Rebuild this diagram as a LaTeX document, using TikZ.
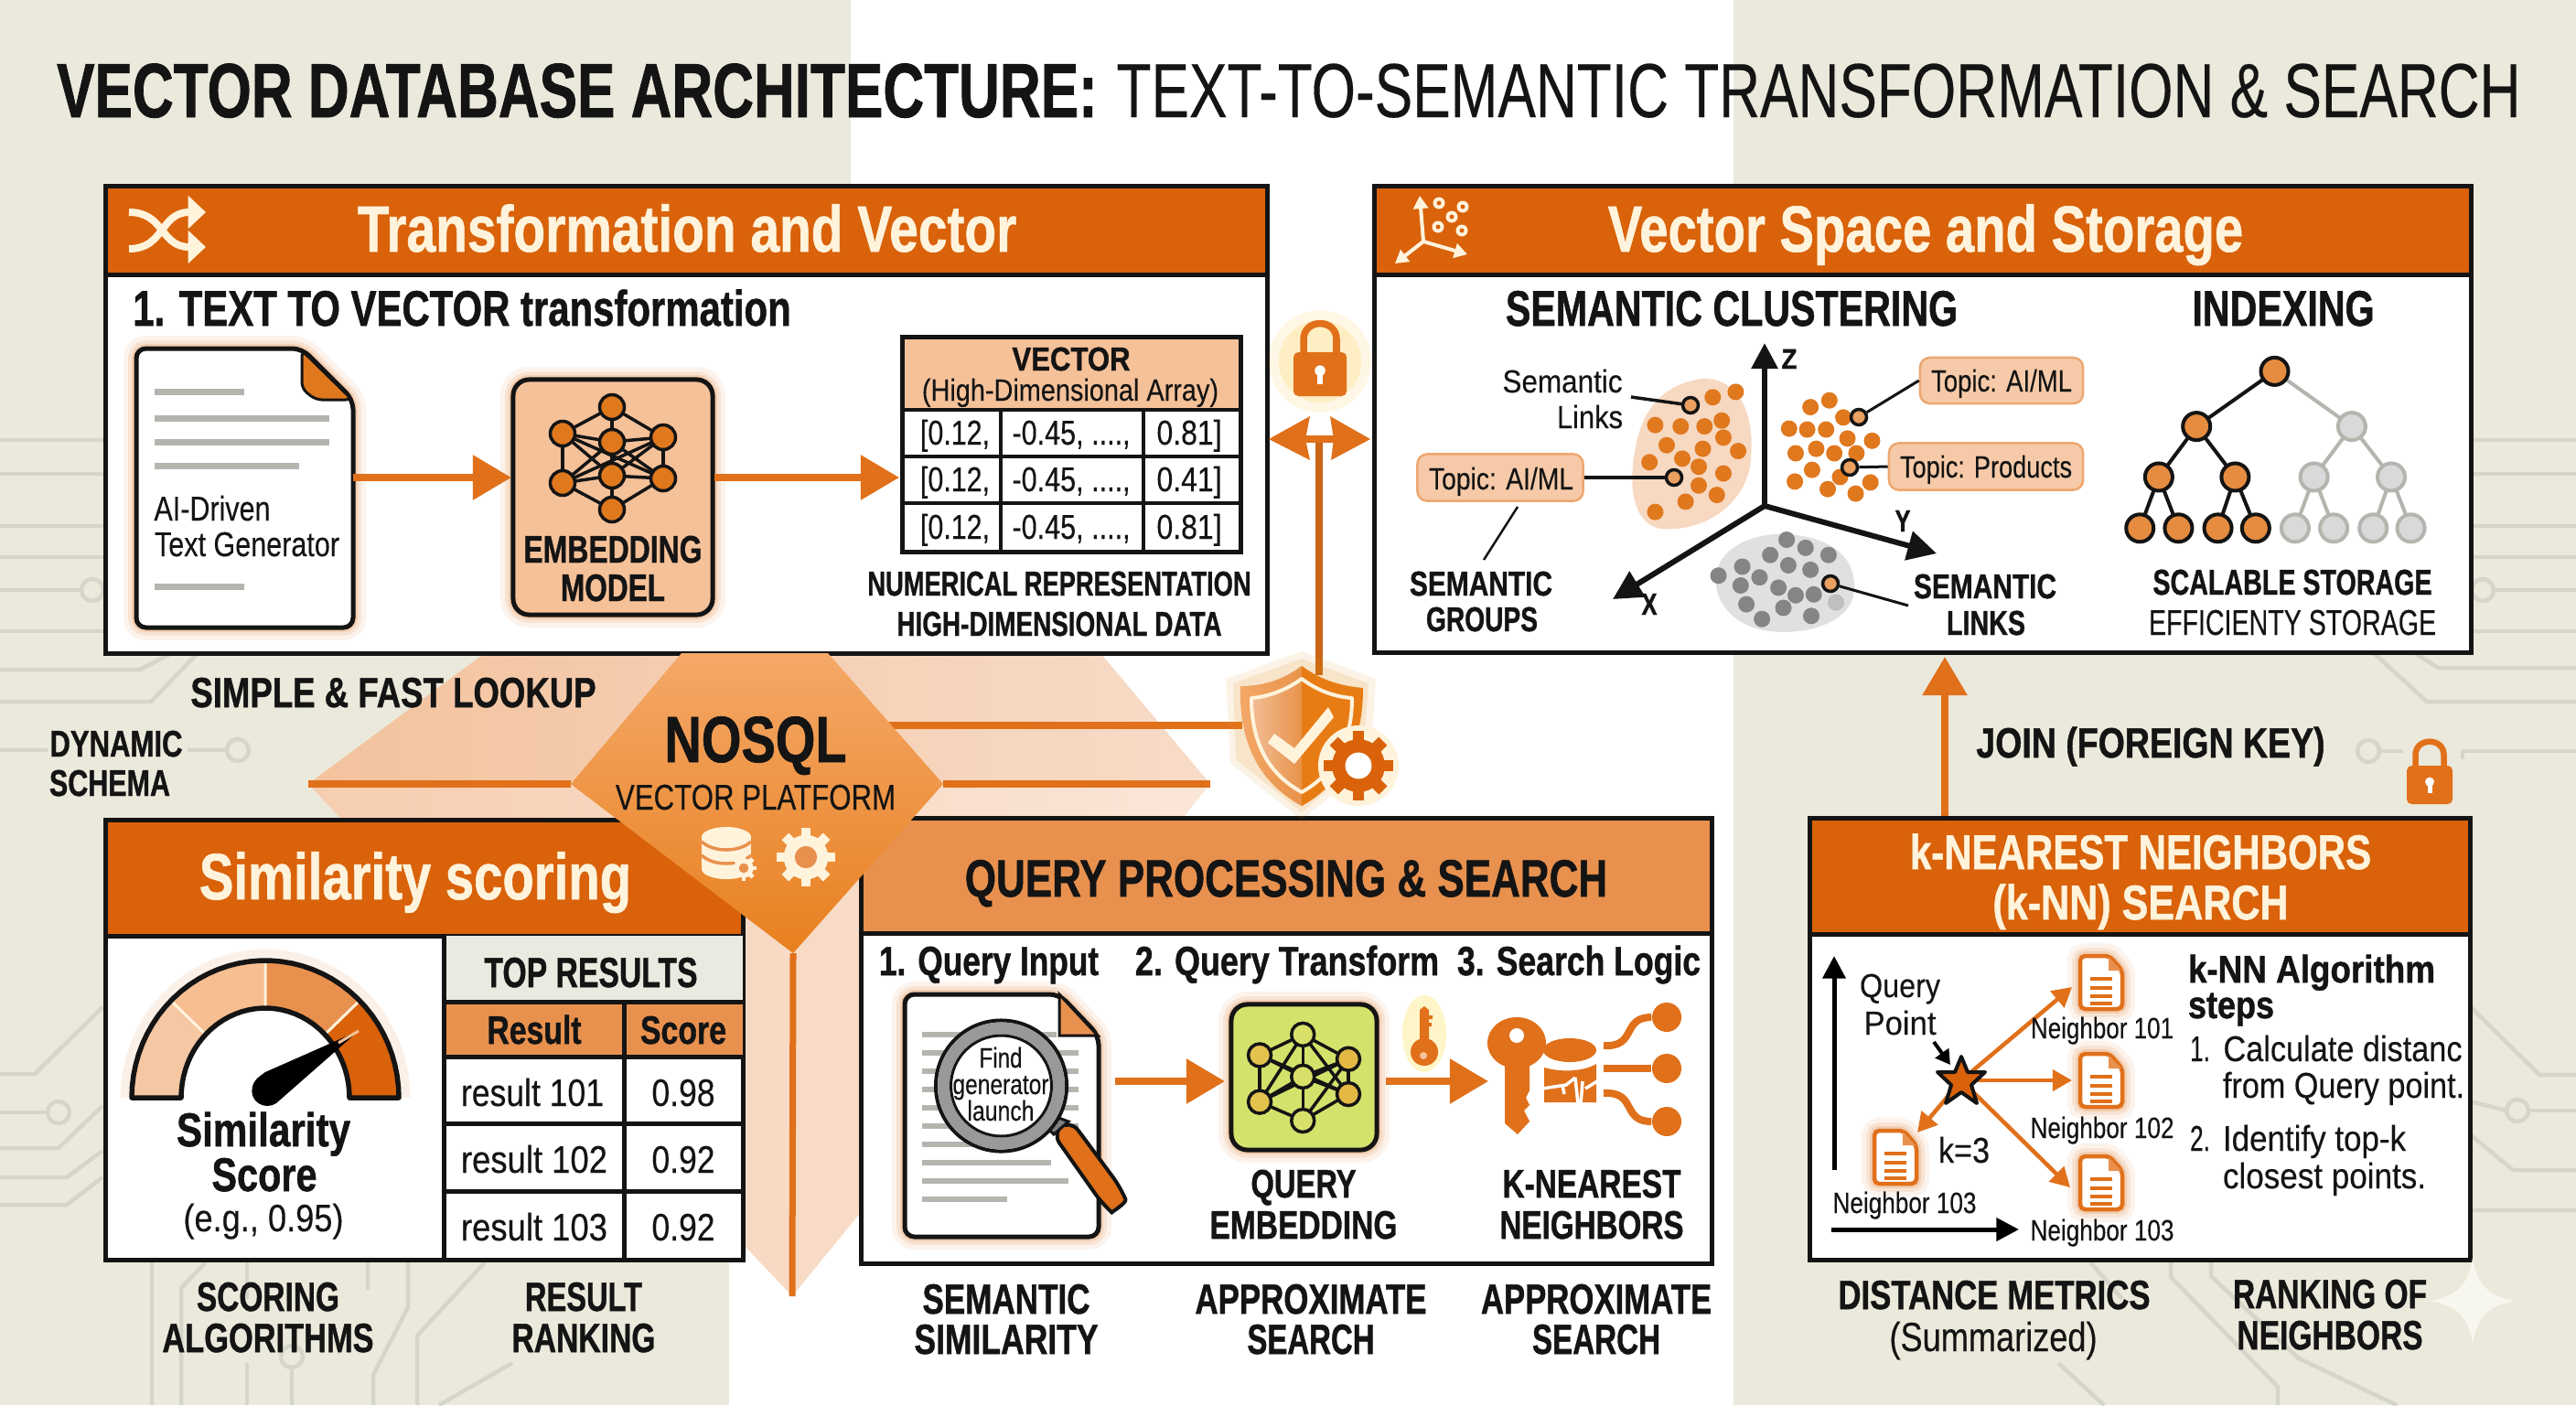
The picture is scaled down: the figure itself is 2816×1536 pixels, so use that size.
\documentclass[tikz,border=0pt]{standalone}
\usepackage{fontspec}
\usepackage{graphicx}
\setmainfont{Liberation Sans}[FakeBold=0.25,BoldFeatures={FakeBold=1.1}]
\usetikzlibrary{arrows.meta,calc}
\definecolor{cream}{HTML}{EBE9DB}
\definecolor{circ}{HTML}{D6D5CA}
\definecolor{ink}{HTML}{141414}
\definecolor{hdr}{HTML}{D9620A}
\definecolor{hdrl}{HTML}{E8914E}
\definecolor{arr}{HTML}{E0701A}
\definecolor{peach}{HTML}{F5C199}
\definecolor{ctext}{HTML}{FFF3DC}
\definecolor{dot}{HTML}{E0781E}
\definecolor{gline}{HTML}{B5B4AE}
\definecolor{F4A868}{HTML}{F4A868}
\definecolor{E8801F}{HTML}{E8801F}
\definecolor{E9EAE0}{HTML}{E9EAE0}
\definecolor{F7F7F0}{HTML}{F7F7F0}
\definecolor{qgreen}{HTML}{D3E26B}
\definecolor{hexa}{HTML}{F3C29D}
\definecolor{hexb}{HTML}{F7DCC8}
\definecolor{hexc}{HTML}{F6CDAF}
\definecolor{hexd}{HTML}{FAE6D8}
\definecolor{shl}{HTML}{F2BC94}
\definecolor{shm}{HTML}{E8934A}
\definecolor{shr}{HTML}{E87C14}
\newsavebox\lbox
\newcommand\lab[7]{\node[inner sep=0pt,outer sep=0pt,anchor=base] (#1) at (#2,#3) {\pgfmathsetmacro\fs{#5*0.3974}\fontsize{\fs pt}{\fs pt}\selectfont #6\sbox\lbox{#7}\pgfmathsetmacro\rr{#4*0.28453/(\the\wd\lbox)}\scalebox{\rr}[1]{\usebox\lbox}};}
\newcommand\gearicon[5]{\foreach \g in {0,45,...,315}{\draw[#4,line width={#3*.34*0.2845pt}] ({#1+#3*.6*cos(\g)},{#2+#3*.6*sin(\g)}) -- ({#1+#3*cos(\g)},{#2+#3*sin(\g)});}\fill[#4] (#1,#2) circle ({#3*.76});\fill[#5] (#1,#2) circle ({#3*.38});}
\newcommand\lockicon[6]{% cx, top of body, half width, body height, shackle height, colour
 \draw[#6,line width={#3*.26*0.2845pt}] ({#1-#3*.62},#2) -- ({#1-#3*.62},{#2-#5*.45}) .. controls ({#1-#3*.62},{#2-#5*1.2}) and ({#1+#3*.62},{#2-#5*1.2}) .. ({#1+#3*.62},{#2-#5*.45}) -- ({#1+#3*.62},#2);
 \fill[#6,rounded corners=1.5pt] ({#1-#3},#2) rectangle ({#1+#3},{#2+#4});
 \fill[white] (#1,{#2+#4*.42}) circle ({#3*.2});
 \fill[white] ({#1-#3*.1},{#2+#4*.42}) rectangle ({#1+#3*.1},{#2+#4*.72});}
\newcommand\smalldoc[2]{%
 \draw[arr,pw=4.5,fill=white,rounded corners=1.5pt,glow=arr] ({#1-23},{#2-29}) -- ({#1+9},{#2-29}) -- ({#1+23},{#2-13}) -- ({#1+23},{#2+29}) -- ({#1-23},{#2+29}) -- cycle;
 \fill[hdrl] ({#1+8},{#2-28}) -- ({#1+22},{#2-13}) -- ({#1+8},{#2-13}) -- cycle;
 \foreach \u in {-4,6,15,23}{\draw[arr,pw=3.5] ({#1-12},{#2+\u}) -- ({#1+12},{#2+\u});}}
\tikzset{
 pw/.style={line width=#1*0.2845pt},
 glow/.style={preaction={draw=#1,opacity=.08,line width=8pt},preaction={draw=#1,opacity=.12,line width=5pt},preaction={draw=#1,opacity=.18,line width=2.8pt}},
 oarrow/.style={draw=arr,pw=8,-{Triangle[length=12pt,width=13.5pt]}},
 cl/.style={draw=circ,pw=4.5,line join=round},
 panelbox/.style={draw=ink,pw=5,fill=white},
 netedge/.style={draw=ink,pw=3.5},
 netnode/.style={circle,draw=ink,pw=3.5,fill=dot,inner sep=0pt,minimum size=.27cm},
 treeO/.style={circle,draw=ink,pw=4,fill=dot!85!white,inner sep=0pt,minimum size=.30cm},
 treeG/.style={circle,draw=gline,pw=4,fill=black!15,inner sep=0pt,minimum size=.30cm},
 callout/.style={draw=hdrl!80!white,pw=2.5,fill=peach!85!white,rounded corners=3pt},
 pin/.style={circle,draw=ink,pw=3.5,fill=dot!70!white,inner sep=0pt,minimum size=.17cm},
}
\begin{document}
\begin{tikzpicture}[x=0.01cm,y=-0.01cm]
\useasboundingbox (0,0) rectangle (2816,1536);
\fill[white] (0,0) rectangle (2816,1536);
\fill[cream] (0,0) rectangle (930,800);
\fill[cream] (0,800) rectangle (797,1536);
\fill[cream] (1895,0) rectangle (2816,1536);
% circuit traces, left
\foreach \yy in {481,518,575,609,690}{\draw[cl] (0,\yy) -- (115,\yy);}
\draw[cl] (0,645) -- (90,645); \draw[cl] (101,645) circle (12);
\draw[cl] (0,732) -- (153,732) -- (215,700);
\draw[cl] (0,767) -- (165,767) -- (215,715);
\draw[cl] (0,820) -- (52,820); \draw[cl] (205,820) -- (248,820); \draw[cl] (260,820) circle (12);
\draw[cl] (0,1174) -- (38,1174) -- (112,1101);
\draw[cl] (0,1216) -- (52,1216); \draw[cl] (64,1216) circle (12);
\draw[cl] (0,1255) -- (64,1255) -- (112,1209);
\draw[cl] (0,1287) -- (73,1287) -- (112,1258);
\draw[cl] (0,1317) -- (73,1317) -- (112,1287);
\draw[cl] (166,1377) -- (166,1536);
\draw[cl] (198,1536) -- (198,1408) -- (225,1380);
\draw[cl] (270,1380) -- (270,1420); \draw[cl] (270,1490) -- (270,1536);
\draw[cl] (319,1496) -- (319,1536); \draw[cl] (319,1483) circle (12);
\draw[cl] (402,1380) -- (402,1410);
\draw[cl] (446,1377) -- (446,1429) -- (408,1503) -- (408,1536);
\draw[cl] (530,1380) -- (456,1460) -- (456,1536);
\draw[cl] (560,1490) -- (480,1536);
% circuit traces, right
\foreach \yy in {481,518,575,609,690}{\draw[cl] (2701,\yy) -- (2816,\yy);}
\draw[cl] (2726,645) -- (2816,645); \draw[cl] (2714,645) circle (12);
\draw[cl] (2595,714) -- (2653,767) -- (2816,767);
\draw[cl] (2640,714) -- (2665,730) -- (2816,730);
\draw[cl] (2692,830) -- (2692,821) -- (2816,821);
\draw[cl] (2589,821) circle (12); \draw[cl] (2601,821) -- (2627,821);
\draw[cl] (2700,1100) -- (2776,1175) -- (2816,1175);
\draw[cl] (2700,1204) -- (2740,1214); \draw[cl] (2752,1214) circle (12); \draw[cl] (2764,1214) -- (2816,1214);
\draw[cl] (2700,1240) -- (2747,1279) -- (2816,1279);
\draw[cl] (2700,1323) -- (2816,1323);
\draw[cl] (2285,1380) -- (2320,1420); \draw[cl] (2373,1377) -- (2373,1396) -- (2490,1516) -- (2490,1536);
\draw[cl] (2417,1377) -- (2417,1395) -- (2513,1485) -- (2620,1536);
\draw[cl] (2250,1490) -- (2300,1536);
% pale hexagon and tail
\shade[left color=hexc,right color=hexd] (337,857) -- (1323,857) -- (866,1417) -- cycle;
\shade[left color=hexa,right color=hexb] (337,857) -- (530,714) -- (1203,714) -- (1323,857) -- cycle;
% panels
\draw[panelbox] (115,203) rectangle (1385,714);
\fill[hdr] (115,203) rectangle (1385,300);
\draw[ink,pw=5] (115,203) rectangle (1385,714) (115,300) -- (1385,300);
\draw[panelbox] (1502,203) rectangle (2701,713);
\fill[hdr] (1502,203) rectangle (2701,300);
\draw[ink,pw=5] (1502,203) rectangle (2701,713) (1502,300) -- (2701,300);
\draw[panelbox] (115,896) rectangle (812,1377);
\fill[hdr] (115,896) rectangle (812,1023);
\draw[ink,pw=5] (115,896) rectangle (812,1377) (115,1023) -- (812,1023);
\draw[panelbox] (941,894) rectangle (1871,1381);
\fill[hdrl] (941,894) rectangle (1871,1020);
\draw[ink,pw=5] (941,894) rectangle (1871,1381) (941,1020) -- (1871,1020);
\draw[panelbox] (1978,894) rectangle (2700,1377);
\fill[hdr] (1978,894) rectangle (2700,1021);
\draw[ink,pw=5] (1978,894) rectangle (2700,1377) (1978,1021) -- (2700,1021);
% platform lines
\coordinate (dmL) at (624,857); \coordinate (dmR) at (1031,857);
\coordinate (hexL) at (337,857); \coordinate (hexR) at (1323,857);
\coordinate (dmTip) at (867,1042); \coordinate (tailTip) at (866,1417);
\coordinate (shU) at (970,793); \coordinate (shV) at (1358,793);
\coordinate (vb) at (1442,738); \coordinate (vt) at (1442,480);
\draw[arr,pw=8] (hexL) -- (dmL);
\draw[arr,pw=8] (dmR) -- (hexR);
\draw[arr,pw=7] (dmTip) -- (tailTip);
\draw[arr,pw=8] (shU) -- (shV);
\draw[arr!90!black,pw=8] (vb) -- (vt);
% centre diamond
\shade[top color=F4A868,bottom color=E8801F] (745,714) -- (905,714) -- (1031,857) -- (867,1042) -- (624,857) -- cycle;
% double arrow and lock
\fill[arr] (1387,480) -- (1432,455) -- (1427,480) -- (1432,503) -- cycle;
\fill[arr] (1498,480) -- (1454,455) -- (1458,480) -- (1455,503) -- cycle;
\draw[arr,pw=8] (1427,480) -- (1458,480);
\fill[orange!60!yellow,opacity=.10] (1443,395) circle (56);
\fill[orange!60!yellow,opacity=.14] (1443,395) circle (45);
\lockicon{1443}{385}{29}{48}{31}{arr}
% shield
\fill[arr!80!yellow,opacity=.10] (1423,712) -- (1504,742) -- (1498,835) -- (1423,896) -- (1345,835) -- (1340,742) -- cycle;
\fill[arr!80!yellow,opacity=.14] (1423,720) -- (1496,747) -- (1490,830) -- (1423,888) -- (1351,830) -- (1348,747) -- cycle;
\shade[left color=F4A868,right color=shm] (1423,728) .. controls (1400,745) and (1378,750) .. (1356,750) .. controls (1354,810) and (1375,855) .. (1423,881) -- cycle;
\fill[shr] (1423,728) .. controls (1446,745) and (1468,750) .. (1490,752) .. controls (1490,810) and (1470,855) .. (1423,881) -- cycle;
\shade[left color=shl,right color=shm] (1423,742) .. controls (1405,755) and (1385,762) .. (1368,763) .. controls (1368,810) and (1385,845) .. (1423,866) -- cycle;
\draw[ctext,pw=4,line join=round] (1423,742) .. controls (1405,755) and (1385,762) .. (1368,763) .. controls (1368,810) and (1385,845) .. (1423,866) .. controls (1460,845) and (1478,810) .. (1478,763) .. controls (1460,762) and (1440,755) .. (1423,742) -- cycle;
\fill[ctext] (1393,802) -- (1415,818) -- (1452,773) -- (1458,784) -- (1415,835) -- (1386,812) -- cycle;
\fill[ctext] (1485,837) circle (44);
\gearicon{1485}{837}{38}{hdr}{white}
% diamond icons
\fill[ctext] (767,915) rectangle (821,950);
\fill[ctext] (794,950) ellipse (27 and 11);
\fill[ctext] (794,915) ellipse (27 and 11);
\draw[hdrl,pw=3.5] (767,920) .. controls (780,932) and (808,932) .. (821,920);
\draw[hdrl,pw=3.5] (767,935) .. controls (780,947) and (808,947) .. (821,935);
\gearicon{813}{949}{14}{ctext}{hdrl}
\gearicon{881}{937}{32}{ctext}{hdrl}
% ---- panel 1 content
\draw[ctext,pw=8,-{Triangle[length=5.5pt,width=10pt]}] (141,232) .. controls (180,232) and (175,270) .. (225,270);
\draw[ctext,pw=8,-{Triangle[length=5.5pt,width=10pt]}] (141,272) .. controls (180,272) and (175,232) .. (225,232);
% document
\draw[ink,pw=5,fill=white,rounded corners=3pt,glow=arr] (149,381) -- (330,381) -- (386,437) -- (386,686) -- (149,686) -- cycle;
\draw[ink,pw=3,fill=dot,rounded corners=2pt] (330,383) -- (385,437) -- (345,437) -- (330,425) -- cycle;
\foreach \a/\b/\c in {169/267/428,169/360/457,169/360/483,169/327/509,169/267/641}{\draw[gline,pw=7] (\a,\c) -- (\b,\c);}
% embedding
\node[draw=ink,pw=5,fill=peach,rounded corners=5pt,minimum width=2.18cm,minimum height=2.57cm,inner sep=0pt,glow=arr] (emb) at (670,543.5) {};
\foreach \n/\a/\b in {na/669/445,nb/615/474,nc/669/483,nd/725/478,ne/615/528,nf/669/520,ng/725/523,nh/669/557}{\coordinate (\n) at (\a,\b);}
\foreach \p/\q in {na/nb,na/nc,na/nd,nb/nc,nb/nf,nb/ng,nb/ne,nc/ne,nc/ng,nc/nf,nd/nc,nd/nf,nd/ne,nd/ng,ne/nf,ne/nh,nf/nh,nf/ng,ng/nh}{\draw[netedge] (\p) -- (\q);}
\foreach \n/\a/\b in {na/669/445,nb/615/474,nc/669/483,nd/725/478,ne/615/528,nf/669/520,ng/725/523,nh/669/557}{\node[netnode] at (\a,\b) {};}
% vector table
\fill[peach] (986,368) rectangle (1356,448);
\draw[ink,pw=5] (986,368) rectangle (1356,603);
\draw[ink,pw=4.5] (986,448) -- (1356,448) (986,499) -- (1356,499) (986,550) -- (1356,550) (1094,448) -- (1094,603) (1250,448) -- (1250,603);
\coordinate (docE) at (386,522); \coordinate (embW) at (559,522);
\coordinate (embE) at (781,522); \coordinate (vecW) at (983,522);
\draw[oarrow] (docE) -- (embW);
\draw[oarrow] (embE) -- (vecW);
% ---- panel 2 content
\coordinate (ax0) at (1556,264);
\coordinate (axa) at (1552,214); \coordinate (axb) at (1525,288); \coordinate (axc) at (1604,278);
\foreach \e in {axa,axb,axc}{\draw[ctext,pw=4,-{Triangle[length=4pt,width=4.5pt]}] (ax0) -- (\e);}
\foreach \a/\b in {1573/222,1599/226,1572/248,1598/252,1587/237}{\fill[ctext] (\a,\b) circle (6.5);\fill[hdr] (\a,\b) circle (2.5);}
% blobs
\fill[hdrl!35!white] (1860,414) .. controls (1905,412) and (1918,460) .. (1914,500) .. controls (1912,545) and (1870,582) .. (1815,578) .. controls (1780,570) and (1780,520) .. (1790,480) .. controls (1798,445) and (1820,420) .. (1860,414) -- cycle;
\fill[black!12] (1940,584) .. controls (1985,582) and (2030,600) .. (2027,645) .. controls (2025,680) and (1975,695) .. (1935,690) .. controls (1890,685) and (1868,650) .. (1878,620) .. controls (1885,600) and (1910,586) .. (1940,584) -- cycle;
\foreach \a/\b in {545/548,517/560,447/622,478/625,507/625,528/612,530/650,461/667,505/675,548/680,480/697,440/705,500/715,530/730,500/757,522/778,484/793,447/816,659/567,636/582,676/605,610/630,632/632,655/632,681/652,711/657,618/685,643/675,665/685,692/685,638/722,672/738,617/748,657/765,691/775,709/750}{\fill[dot] ({1408+\a/1.1136},{160+\b/2.0417}) circle (9);}
\foreach \a/\b in {607/878,587/912,630/896,658/912,609/935,636/945,524/958,553/938,574/962,551/980,597/985,618/1002,640/1000,558/1022,603/1030,637/1048,577/1055}{\fill[black!48] ({1408+\a/1.1136},{160+\b/2.0417}) circle (9);}
\fill[black!25] ({1408+667/1.1136},{160+1018/2.0417}) circle (9);
% callouts
\node[callout,minimum width=1.81cm,minimum height=.51cm,inner sep=0pt] (tL) at (1640,522) {};
\node[callout,minimum width=1.78cm,minimum height=.50cm,inner sep=0pt] (tR) at (2188,416) {};
\node[callout,minimum width=2.12cm,minimum height=.51cm,inner sep=0pt] (tP) at (2171,510) {};
\node[pin] (pa) at (1830,522) {};
\node[pin] (pb) at (1848,443) {};
\node[pin] (pc) at (2032,456) {};
\node[pin] (pd) at (2022,511) {};
\node[pin] (pe) at (2001,638) {};
\coordinate (slk) at (1783,434); \coordinate (sg1) at (1659,554); \coordinate (sg2) at (1622,612); \coordinate (rlk) at (2086,662);
\draw[ink,pw=3.5] (tL.east) -- (pa);
\draw[ink,pw=3.5] (slk) -- (pb);
\draw[ink,pw=3] (tR.west) -- (pc);
\draw[ink,pw=3] (tP.west) -- (pd);
\draw[ink,pw=2.5] (sg1) -- (sg2);
\draw[ink,pw=3] (pe) -- (rlk);
% axes
\coordinate (o3) at (1929,553);
\coordinate (zt) at (1929,375); \coordinate (xt) at (1763,655); \coordinate (yt) at (2117,605);
\draw[ink,pw=6,-{Triangle[length=8pt,width=8pt]}] (o3) -- (zt);
\draw[ink,pw=6,-{Triangle[length=9pt,width=9pt]}] (o3) -- (xt);
\draw[ink,pw=6,-{Triangle[length=9pt,width=9pt]}] (o3) -- (yt);
% tree
\foreach \n/\a/\b in {r/1201/502,a/1106/625,b/1295/625,c/1060/738,d/1153/738,e/1249/738,f/1343/738,g/1037/852,h/1084/852,i/1132/852,j/1178/852,k/1226/852,l/1273/852,m/1321/852,n/1367/852}{\coordinate (t\n) at ({1408+\a/1.1136},{160+\b/2.0417});}
\foreach \p/\q in {r/a,a/c,a/d,c/g,c/h,d/i,d/j}{\draw[ink,pw=4] (t\p) -- (t\q);}
\foreach \p/\q in {r/b,b/e,b/f,e/k,e/l,f/m,f/n}{\draw[gline,pw=4] (t\p) -- (t\q);}
\foreach \n/\a/\b/\s in {r/1201/502/O,a/1106/625/O,c/1060/738/O,d/1153/738/O,g/1037/852/O,h/1084/852/O,i/1132/852/O,j/1178/852/O,b/1295/625/G,e/1249/738/G,f/1343/738/G,k/1226/852/G,l/1273/852/G,m/1321/852/G,n/1367/852/G}{\node[tree\s] at ({1408+\a/1.1136},{160+\b/2.0417}) {};}
% ---- panel 3 content
\fill[E9EAE0] (485,1023) rectangle (812,1095);
\fill[hdrl] (485,1095) rectangle (812,1155);
\draw[ink,pw=5] (485,1023) -- (485,1377) (485,1095) -- (812,1095) (485,1155) -- (812,1155) (485,1228) -- (812,1228) (485,1302) -- (812,1302) (682,1095) -- (682,1377);
% gauge
\draw[arr,opacity=.10,line width=7pt] plot[domain=180:0,samples=40] ({290+146*cos(\x)},{1200-150*sin(\x)});
\fill[peach!90!white] plot[domain=180:135,samples=14] ({290+146*cos(\x)},{1200-150*sin(\x)}) -- plot[domain=135:180,samples=14] ({290+92*cos(\x)},{1200-98*sin(\x)}) -- cycle;
\fill[peach!95!orange] plot[domain=135:90,samples=14] ({290+146*cos(\x)},{1200-150*sin(\x)}) -- plot[domain=90:135,samples=14] ({290+92*cos(\x)},{1200-98*sin(\x)}) -- cycle;
\fill[hdrl] plot[domain=90:45,samples=14] ({290+146*cos(\x)},{1200-150*sin(\x)}) -- plot[domain=45:90,samples=14] ({290+92*cos(\x)},{1200-98*sin(\x)}) -- cycle;
\fill[hdr] plot[domain=45:0,samples=14] ({290+146*cos(\x)},{1200-150*sin(\x)}) -- plot[domain=0:45,samples=14] ({290+92*cos(\x)},{1200-98*sin(\x)}) -- cycle;
\draw[ctext,pw=3] (225,1131) -- (187,1094) (290,1102) -- (290,1050) (355,1131) -- (393,1094);
\draw[ink,pw=5.5,line join=round] plot[domain=180:0,samples=40] ({290+146*cos(\x)},{1200-150*sin(\x)}) -- plot[domain=0:180,samples=40] ({290+92*cos(\x)},{1200-98*sin(\x)}) -- cycle;
\fill[black] (392,1127) -- (302,1206) .. controls (290,1214) and (272,1205) .. (276,1188) .. controls (278,1180) and (282,1178) .. (290,1172) -- cycle;
\draw[peach,pw=3] (370,1140) -- (392,1127);
% ---- panel 4 content
\draw[ink,pw=5,fill=white,rounded corners=3pt,glow=arr] (989,1087) -- (1158,1087) -- (1201,1132) -- (1201,1352) -- (989,1352) -- cycle;
\draw[ink,pw=3,fill=hdrl] (1158,1087) -- (1200,1132) -- (1158,1132) -- cycle;
\foreach \a/\b in {618/400,665/437,712/437,758/437,805/437,852/437,900/300,945/390,992/420,1040/315}{\draw[gline,pw=6] ({900+170/1.568},{868+\a/2.347}) -- ({900+\b/1.568},{868+\a/2.347});}
\draw[ink,pw=4,fill=arr,rounded corners=4pt] (1150,1238) -- (1170,1224) -- (1225,1298) .. controls (1232,1315) and (1215,1325) .. (1205,1316) -- cycle;
\draw[ink,pw=3,fill=gray] (1140,1228) -- (1152,1220) -- (1168,1226) -- (1152,1240) -- cycle;
\node[circle,draw=ink,pw=4,fill=white,minimum size=1.43cm,inner sep=0pt] (mag) at (1094.5,1187) {};
\draw[gray!80,pw=13] (1094.5,1187) circle (63);
\draw[ink,pw=3] (1094.5,1187) circle (55);
% arrows
\coordinate (qdE) at (1219,1182); \coordinate (gnW) at (1339,1182);
\coordinate (gnE) at (1515,1182); \coordinate (kyW) at (1627,1182);
\draw[oarrow] (qdE) -- (gnW);
\draw[oarrow] (gnE) -- (kyW);
% green box
\node[draw=ink,pw=5,fill=qgreen,rounded corners=5pt,minimum width=1.59cm,minimum height=1.59cm,inner sep=0pt,glow=arr] (qbox) at (1425.5,1177.5) {};
\foreach \n/\a/\b in {ma/822/617,mb/748/670,mc/822/725,md/900/680,me/748/790,mf/900/770,mg/822/838}{\coordinate (\n) at ({900+\a/1.568},{868+\b/2.347});}
\foreach \p/\q in {ma/mb,ma/mc,ma/md,mb/mc,mb/mf,mb/me,mc/me,mc/mf,md/mc,md/me,md/mf,me/mg,mc/mg,mf/mg,ma/me,ma/mf,md/mg}{\draw[netedge] (\p) -- (\q);}
\foreach \n/\a/\b/\cc in {ma/822/617/D9E06A,mb/748/670/E4C24E,mc/822/725/D9E06A,md/900/680/E4B845,me/748/790/E4C24E,mf/900/770/E4B845,mg/822/838/D9E06A}{\definecolor{tmpc}{HTML}{\cc}\node[netnode,fill=tmpc,minimum size=.25cm] at ({900+\a/1.568},{868+\b/2.347}) {};}
% small key
\fill[yellow!70!orange,opacity=.22] (1557,1130) ellipse (24 and 42);
\fill[arr] (1557,1150) circle (15);
\fill[arr] (1552,1104) -- (1557,1100) -- (1562,1104) -- (1562,1145) -- (1552,1145) -- cycle;
\fill[arr] (1562,1110) rectangle (1566,1114) (1562,1118) rectangle (1565,1122);
\fill[peach] (1556,1154) circle (4);
% big key
\fill[arr] (1658,1140) ellipse (32 and 28);
\fill[arr] (1645,1160) -- (1672,1160) -- (1672,1192) -- (1668,1200) -- (1672,1208) -- (1666,1214) -- (1672,1226) -- (1659,1240) -- (1645,1228) -- cycle;
\fill[white] (1658,1132) circle (8);
\fill[arr] (1716,1148) ellipse (29 and 13);
\fill[arr] (1688,1167) .. controls (1705,1172) and (1730,1172) .. (1745,1163) -- (1745,1205) -- (1688,1205) -- cycle;
\draw[white,pw=3.5] (1686,1190) -- (1712,1186) -- (1722,1178) (1722,1178) -- (1725,1207) (1730,1182) -- (1728,1207) (1708,1186) -- (1710,1196) (1733,1190) -- (1746,1182);
% branches
\node[circle,fill=arr,inner sep=0pt,minimum size=.32cm] (k1) at (1822,1112) {};
\node[circle,fill=arr,inner sep=0pt,minimum size=.32cm] (k2) at (1822,1168) {};
\node[circle,fill=arr,inner sep=0pt,minimum size=.32cm] (k3) at (1822,1226) {};
\coordinate (k0a) at (1753,1143); \coordinate (k0b) at (1753,1168); \coordinate (k0c) at (1753,1195);
\draw[arr,pw=8] (k0a) .. controls (1790,1145) and (1772,1112) .. (k1);
\draw[arr,pw=8] (k0b) -- (k2);
\draw[arr,pw=8] (k0c) .. controls (1790,1193) and (1772,1226) .. (k3);
% ---- panel 5 content
\coordinate (ya) at (2005,1279); \coordinate (yb) at (2005,1045);
\coordinate (xa) at (2002,1344); \coordinate (xb) at (2207,1344);
\draw[black,pw=5,-{Triangle[length=7pt,width=7pt]}] (ya) -- (yb);
\draw[black,pw=5,-{Triangle[length=7pt,width=7pt]}] (xa) -- (xb);
\smalldoc{2297}{1074}
\smalldoc{2297}{1181}
\smalldoc{2297}{1293}
\smalldoc{2072}{1265}
\coordinate (star) at (2144,1181);
\coordinate (d1) at (2265,1079); \coordinate (d2) at (2265,1181); \coordinate (d3) at (2263,1298); \coordinate (d4) at (2096,1238);
\foreach \e in {d1,d2,d3,d4}{\draw[arr,pw=4.5,-{Triangle[length=6pt,width=6.5pt]}] (star) -- (\e);}
\draw[ink,pw=4,fill=hdr,line join=round] (2144,1155) -- (2151,1172) -- (2170,1172) -- (2155,1186) -- (2161,1206) -- (2144,1194) -- (2127,1206) -- (2133,1186) -- (2118,1172) -- (2137,1172) -- cycle;
\coordinate (qa) at (2114,1139); \coordinate (qb) at (2132,1164);
\draw[black,pw=4,-{Triangle[length=4.5pt,width=5pt]}] (qa) -- (qb);
% join arrow and lock
\coordinate (jb) at (2126,892); \coordinate (jt) at (2126,718);
\draw[oarrow] (jb) -- (jt);
\lockicon{2656}{837}{25}{42}{26}{arr}
% sparkle
\fill[F7F7F0] (2703,1375) .. controls (2708,1405) and (2720,1417) .. (2750,1422) .. controls (2720,1427) and (2708,1439) .. (2703,1469) .. controls (2698,1439) and (2686,1427) .. (2656,1422) .. controls (2686,1417) and (2698,1405) .. (2703,1375) -- cycle;
% ---- texts
\def\B{\bfseries\color{ink}}\def\R{\color{ink}}\def\C{\bfseries\color{ctext}}
\lab{t1}{631}{128}{1137}{60}{\B}{VECTOR DATABASE ARCHITECTURE:}
\lab{t2}{1988}{128}{1534}{60}{\R}{TEXT-TO-SEMANTIC TRANSFORMATION \& SEARCH}
\lab{h1}{751}{275}{720}{51}{\C}{Transformation and Vector}
\lab{h2}{2105}{275}{694}{51}{\C}{Vector Space and Storage}
\lab{h3}{454}{983}{472}{51}{\C}{Similarity scoring}
\lab{h4}{1406}{980}{702}{41}{\B}{QUERY PROCESSING \& SEARCH}
\lab{h5}{2340}{950}{504}{38}{\C}{k-NEAREST NEIGHBORS}
\lab{h6}{2340}{1005}{323}{38}{\C}{(k-NN) SEARCH}
\lab{a1}{505}{356}{719}{39}{\B}{1. TEXT TO VECTOR transformation}
\lab{a2}{232}{569}{127}{27}{\R}{AI-Driven}
\lab{a3}{270}{608}{202}{27}{\R}{Text Generator}
\lab{a4}{670}{615}{195}{30}{\B}{EMBEDDING}
\lab{a5}{670}{657}{114}{30}{\B}{MODEL}
\lab{a6}{1171}{405}{129}{26}{\B}{VECTOR}
\lab{a7}{1170}{438}{324}{24}{\R}{(High-Dimensional Array)}
\lab{c11}{1044}{486}{76}{27}{\R}{[0.12,}\lab{c12}{1171}{486}{129}{27}{\R}{-0.45, ....,}\lab{c13}{1300}{486}{71}{27}{\R}{0.81]}
\lab{c21}{1044}{537}{76}{27}{\R}{[0.12,}\lab{c22}{1171}{537}{129}{27}{\R}{-0.45, ....,}\lab{c23}{1300}{537}{71}{27}{\R}{0.41]}
\lab{c31}{1044}{589}{76}{27}{\R}{[0.12,}\lab{c32}{1171}{589}{129}{27}{\R}{-0.45, ....,}\lab{c33}{1300}{589}{71}{27}{\R}{0.81]}
\lab{a8}{1158}{651}{419}{27}{\B}{NUMERICAL REPRESENTATION}
\lab{a9}{1158}{695}{355}{27}{\B}{HIGH-DIMENSIONAL DATA}
\lab{b1}{430}{773}{443}{33}{\B}{SIMPLE \& FAST LOOKUP}
\lab{b2}{127}{827}{145}{29}{\B}{DYNAMIC}
\lab{b3}{120}{870}{132}{29}{\B}{SCHEMA}
\lab{b4}{826}{833}{199}{51}{\B}{NOSQL}
\lab{b5}{826}{885}{306}{28}{\R}{VECTOR PLATFORM}
\lab{s1}{1893}{356}{494}{39}{\B}{SEMANTIC CLUSTERING}
\lab{s2}{2496}{356}{199}{39}{\B}{INDEXING}
\lab{s3}{1956}{403}{17}{22}{\B}{Z}
\lab{s4}{1803}{672}{17}{24}{\B}{X}
\lab{s5}{2080}{581}{17}{24}{\B}{Y}
\lab{s6}{1641}{535}{158}{24}{\R}{Topic: AI/ML}
\lab{s7}{2188}{428}{154}{24}{\R}{Topic: AI/ML}
\lab{s8}{2171}{522}{188}{24}{\R}{Topic: Products}
\lab{s9}{1708}{429}{131}{25}{\R}{Semantic}
\lab{s10}{1738}{468}{72}{25}{\R}{Links}
\lab{s11}{1619}{651}{156}{27}{\B}{SEMANTIC}
\lab{s12}{1620}{690}{122}{27}{\B}{GROUPS}
\lab{s13}{2170}{654}{156}{27}{\B}{SEMANTIC}
\lab{s14}{2171}{694}{86}{27}{\B}{LINKS}
\lab{s15}{2506}{650}{305}{28}{\B}{SCALABLE STORAGE}
\lab{s16}{2506}{694}{314}{28}{\R}{EFFICIENTY STORAGE}
\lab{g1}{288}{1253}{190}{37}{\B}{Similarity}
\lab{g2}{289}{1302}{115}{37}{\B}{Score}
\lab{g3}{288}{1346}{175}{30}{\R}{(e.g., 0.95)}
\lab{g4}{646}{1079}{233}{33}{\B}{TOP RESULTS}
\lab{g5}{584}{1141}{103}{31}{\B}{Result}
\lab{g6}{747}{1141}{94}{31}{\B}{Score}
\lab{g7}{582}{1209}{156}{30}{\R}{result 101}\lab{g8}{747}{1209}{69}{30}{\R}{0.98}
\lab{g9}{584}{1282}{160}{30}{\R}{result 102}\lab{g10}{747}{1282}{69}{30}{\R}{0.92}
\lab{g11}{584}{1356}{160}{30}{\R}{result 103}\lab{g12}{747}{1356}{69}{30}{\R}{0.92}
\lab{g13}{293}{1433}{156}{32}{\B}{SCORING}
\lab{g14}{293}{1478}{231}{32}{\B}{ALGORITHMS}
\lab{g15}{638}{1433}{128}{32}{\B}{RESULT}
\lab{g16}{638}{1478}{157}{32}{\B}{RANKING}
\lab{q1}{1081}{1066}{240}{32}{\B}{1. Query Input}
\lab{q2}{1407}{1066}{332}{32}{\B}{2. Query Transform}
\lab{q3}{1726}{1066}{266}{32}{\B}{3. Search Logic}
\lab{q4}{1094}{1167}{47}{22}{\R}{Find}
\lab{q5}{1094}{1196}{105}{22}{\R}{generator}
\lab{q6}{1094}{1225}{73}{22}{\R}{launch}
\lab{q7}{1425}{1309}{115}{31}{\B}{QUERY}
\lab{q8}{1425}{1354}{205}{31}{\B}{EMBEDDING}
\lab{q9}{1740}{1309}{195}{31}{\B}{K-NEAREST}
\lab{q10}{1740}{1354}{201}{31}{\B}{NEIGHBORS}
\lab{q11}{1100}{1436}{183}{33}{\B}{SEMANTIC}
\lab{q12}{1100}{1480}{201}{33}{\B}{SIMILARITY}
\lab{q13}{1433}{1436}{253}{33}{\B}{APPROXIMATE}
\lab{q14}{1433}{1480}{139}{33}{\B}{SEARCH}
\lab{q15}{1745}{1436}{252}{33}{\B}{APPROXIMATE}
\lab{q16}{1745}{1480}{140}{33}{\B}{SEARCH}
\lab{k1t}{2077}{1090}{88}{26}{\R}{Query}
\lab{k2t}{2077}{1131}{79}{26}{\R}{Point}
\lab{k3t}{2298}{1135}{156}{23}{\R}{Neighbor 101}
\lab{k4t}{2298}{1244}{157}{23}{\R}{Neighbor 102}
\lab{k5t}{2298}{1356}{157}{23}{\R}{Neighbor 103}
\lab{k6t}{2082}{1326}{157}{23}{\R}{Neighbor 103}
\lab{k7t}{2147}{1271}{56}{28}{\R}{k=3}
\lab{k8t}{2527}{1074}{270}{30}{\B}{k-NN Algorithm}
\lab{k9t}{2439}{1113}{94}{30}{\B}{steps}
\lab{k10t}{2405}{1160}{22}{28}{\R}{1.}
\lab{k11t}{2561}{1160}{261}{28}{\R}{Calculate distanc}
\lab{k12t}{2562}{1200}{264}{28}{\R}{from Query point.}
\lab{k13t}{2405}{1258}{22}{28}{\R}{2.}
\lab{k14t}{2530}{1258}{200}{28}{\R}{Identify top-k}
\lab{k15t}{2541}{1299}{222}{28}{\R}{closest points.}
\lab{k16t}{2180}{1431}{341}{32}{\B}{DISTANCE METRICS}
\lab{k17t}{2179}{1477}{227}{32}{\R}{(Summarized)}
\lab{k18t}{2547}{1430}{212}{32}{\B}{RANKING OF}
\lab{k19t}{2547}{1475}{203}{32}{\B}{NEIGHBORS}
\lab{k20t}{2351}{828}{381}{33}{\B}{JOIN (FOREIGN KEY)}
\end{tikzpicture}
\end{document}
